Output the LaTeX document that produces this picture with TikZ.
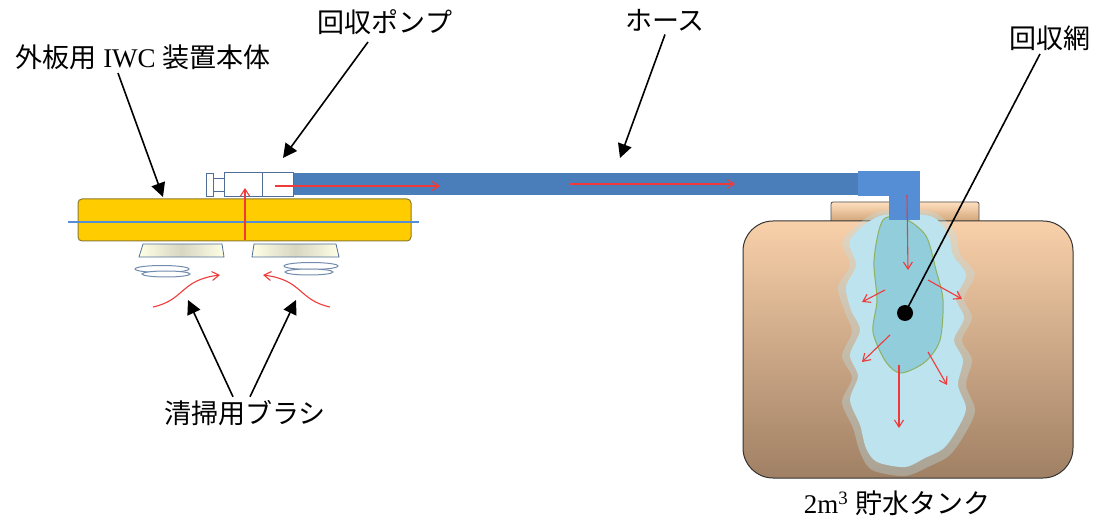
\documentclass[tikz,border=0pt]{standalone}
\usepackage{fontspec}
\setmainfont{Liberation Serif}
\newfontfamily\jp{Noto Sans CJK JP}
\usetikzlibrary{arrows.meta}
\definecolor{hoseblue}{HTML}{4A7EBB}
\definecolor{elbowblue}{HTML}{558ED5}
\definecolor{bodyyellow}{HTML}{FFCC00}
\definecolor{bodyedge}{HTML}{8C7A2A}
\definecolor{pumpedge}{HTML}{4F6F9A}
\definecolor{flowred}{HTML}{F03A3A}
\definecolor{water}{HTML}{BCE3EE}
\definecolor{netfill}{HTML}{92CDDC}
\definecolor{netedge}{HTML}{8FB060}
\tikzset{
	lbl/.style={font=\fontsize{27}{31}\selectfont},
	callout/.style={black,line width=1.6pt,-{Triangle[length=14pt,width=14pt]}},
	flow/.style={flowred,line width=1.1pt,-{Straight Barb[length=7pt,width=9pt]}},
	pumpbox/.style={draw=pumpedge,line width=1pt,fill=white},
	bristle/.style={draw=pumpedge!80,line width=1pt,fill=white},
}
\begin{document}
\begin{tikzpicture}[x=1pt,y=-1pt]
	\useasboundingbox (0,0) rectangle (1093,521);
	% tank with its cap
	\shadedraw[draw=black!70,line width=.8pt,top color=orange!25,bottom color=brown!70!white]
		(831,221) -- (831,204) [rounded corners=2pt] -- (831,202) -- (979,202) -- (979,221);
	\shadedraw[draw=black!80,line width=1pt,rounded corners=30pt,
		top color={rgb,255:red,248;green,208;blue,170},bottom color={rgb,255:red,160;green,128;blue,100}]
		(743,221) rectangle (1073,478);
	% water spreading in the tank
	\fill[water,opacity=.35] plot[smooth cycle] coordinates {(878,212) (843,240) (850,265) (838,287)
		(845,312) (852,332) (842,356) (852,378) (842,402) (853,428) (860,452) (872,470) (905,476)
		(930,466) (950,455) (966,432) (975,410) (966,385) (972,360) (962,340) (972,318) (964,298)
		(975,274) (960,254) (955,232) (932,212)};
	\fill[water] plot[smooth cycle] coordinates {(880,216) (850,240) (856,265) (846,287)
		(851,310) (860,330) (850,355) (858,376) (850,400) (860,425) (866,448) (877,462) (905,467)
		(925,458) (944,448) (958,428) (966,408) (958,385) (963,360) (954,340) (964,318) (956,298)
		(966,275) (953,255) (948,234) (930,216)};
	% recovery net
	\filldraw[fill=netfill,draw=netedge,line width=1pt] plot[smooth cycle] coordinates {(883,220)
		(874,260) (877,300) (873,332) (886,362) (901,373) (925,362) (940,340) (943,300) (936,270)
		(926,236) (905,219)};
	% hose and elbow
	\fill[hoseblue] (293,173) rectangle (862,195);
	\fill[elbowblue] (858,171) rectangle (920,196);
	\fill[elbowblue] (889,171) rectangle (920,220);
	% IWC body
	\filldraw[fill=bodyyellow,draw=bodyedge,line width=1pt,rounded corners=4pt] (78,199) rectangle (411,241);
	\draw[elbowblue,line width=2.5pt] (68,222) -- (419,222);
	% pump
	\draw[pumpbox] (206,174) rectangle (213,197);
	\draw[pumpbox] (213,179) rectangle (224,192);
	\draw[pumpbox] (224,173) rectangle (262,197);
	\draw[pumpbox] (262,173) rectangle (293,197);
	% brushes
	\shadedraw[draw=pumpedge,line width=.8pt,left color=white!90!yellow,right color=white!90!yellow,middle color=yellow!20!gray!40]
		(143,244) -- (222,244) -- (224,257) -- (139,257) -- cycle;
	\shadedraw[draw=pumpedge,line width=.8pt,left color=white!90!yellow,right color=white!90!yellow,middle color=yellow!20!gray!40]
		(254,244) -- (336,244) -- (339,257) -- (252,257) -- cycle;
	\draw[bristle] (162,269) ellipse (27pt and 3.5pt);
	\draw[bristle] (166,274) ellipse (24pt and 3pt);
	\draw[bristle] (311,266) ellipse (27pt and 3.5pt);
	\draw[bristle] (309,272) ellipse (24pt and 3pt);
	% water flow
	\draw[flow] (245,240) -- (245,188);
	\draw[flow] (275,186) -- (440,186);
	\draw[flow] (570,184) -- (735,184);
	\draw[flow] (153,307) .. controls (185,300) and (180,280) .. (220,275);
	\draw[flow] (330,307) .. controls (298,300) and (303,280) .. (263,275);
	\draw[flow] (907,195) -- (908,270);
	\draw[flow] (885,290) -- (862,302);
	\draw[flow] (928,280) -- (962,299);
	\draw[flow] (890,335) -- (862,362);
	\draw[flow] (928,352) -- (947,385);
	\draw[flow] (899,365) -- (899,428);
	% labels
	\node[lbl] (body) at (143,57) {{\jp 外板用} IWC {\jp 装置本体}};
	\node[lbl] (pump) at (385,22) {\jp 回収ポンプ};
	\node[lbl] (hose) at (665,20) {\jp ホース};
	\node[lbl] (net) at (1050,38) {\jp 回収網};
	\node[lbl] (brush) at (245,413) {\jp 清掃用ブラシ};
	\node[lbl] (tank) at (897,503) {2m\textsuperscript{3} {\jp 貯水タンク}};
	\coordinate (bodytip) at (163,197);
	\coordinate (pumptip) at (283,158);
	\coordinate (hosetip) at (620,158);
	\coordinate (nettip) at (905,313);
	\coordinate (lefttip) at (188,300);
	\coordinate (righttip) at (296,300);
	\draw[callout] (body.south) ++(-25,0) -- (bodytip);
	\draw[callout] (368,42) -- (pumptip);
	\draw[callout] (hose.south) -- (hosetip);
	\draw[black,line width=1.6pt] (net.south) ++(-10,0) -- (nettip);
	\fill (nettip) circle (8pt);
	\draw[callout] (brush.north) ++(-12,0) -- (lefttip);
	\draw[callout] (brush.north) ++(5,0) -- (righttip);
\end{tikzpicture}
\end{document}
